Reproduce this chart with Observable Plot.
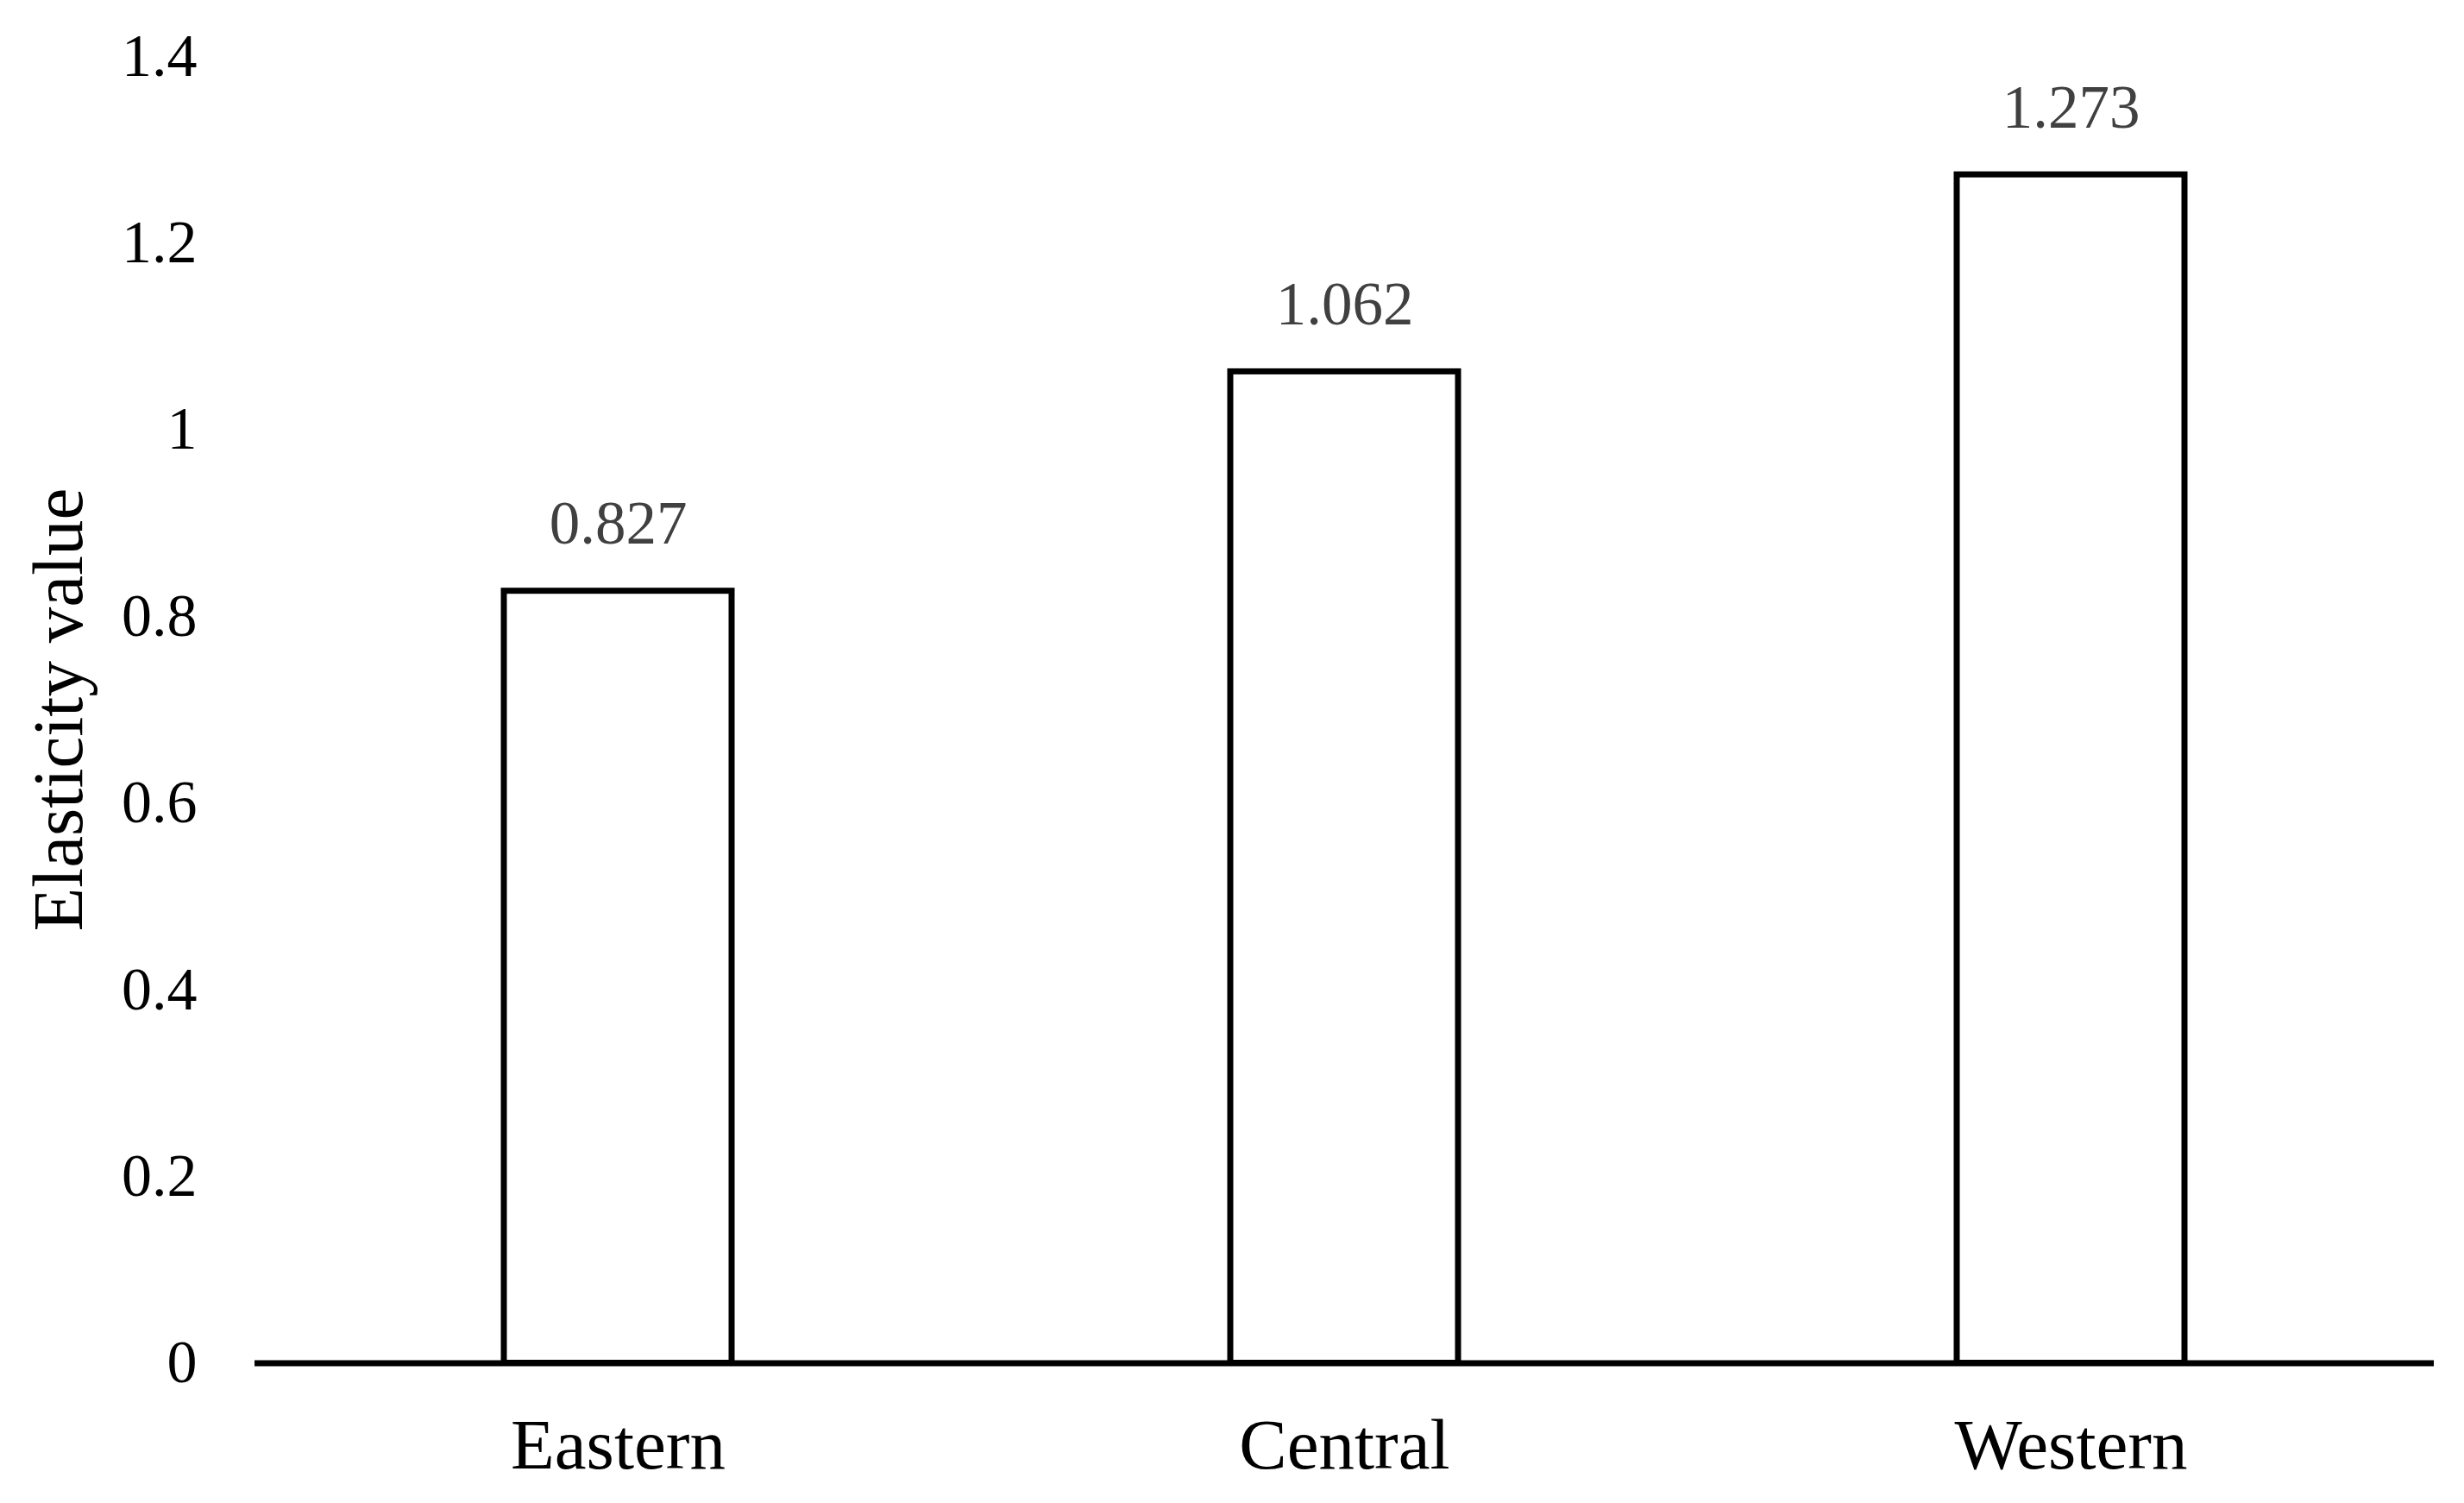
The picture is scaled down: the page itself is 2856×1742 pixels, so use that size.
<!DOCTYPE html>
<html>
<head>
<meta charset="utf-8">
<script src="https://cdn.jsdelivr.net/npm/d3@7"></script>
<script src="https://cdn.jsdelivr.net/npm/@observablehq/plot@0.6"></script>
<style>
  html, body { margin: 0; padding: 0; background: #ffffff; }
  #chart svg { display: block; }
</style>
</head>
<body>
<div id="chart"></div>
<script>
const regions = ["Eastern", "Central", "Western"];
const elasticity = [0.827, 1.062, 1.273];
const valueLabels = ["0.827", "1.062", "1.273"];
const yTicks = [0, 0.2, 0.4, 0.6, 0.8, 1.0, 1.2, 1.4];
const yTitle = "Elasticity value";

const data = regions.map((r, i) => ({region: r, value: elasticity[i], label: valueLabels[i]}));

const chart = Plot.plot({
  width: 2856,
  height: 1742,
  marginLeft: 295,
  marginRight: 35,
  marginTop: 64.7,
  marginBottom: 162.5,
  style: {fontFamily: "'Liberation Serif', 'Times New Roman', serif", background: "#ffffff", color: "#000000"},
  x: {domain: regions, paddingInner: 0.6865, paddingOuter: 0.343},
  y: {domain: [0, 1.4]},
  marks: [
    Plot.axisY({
      ticks: yTicks,
      tickSize: 0,
      tickPadding: 67,
      fontSize: 70,
      tickFormat: d => d3.format("~g")(d),
      label: null
    }),
    Plot.axisX({
      tickSize: 0,
      tickPadding: 63,
      fontSize: 83,
      label: null
    }),
    Plot.barY(data, {
      x: "region",
      y: "value",
      fill: "#ffffff",
      stroke: "#000000",
      strokeWidth: 7,
      inset: 0
    }),
    Plot.ruleY([0], {stroke: "#000000", strokeWidth: 7}),
    Plot.text(data, {
      x: "region",
      y: "value",
      text: "label",
      lineAnchor: "bottom",
      dy: -55,
      fontSize: 71,
      fill: "#404040"
    }),
    Plot.text([yTitle], {
      frameAnchor: "left",
      text: d => d,
      rotate: -90,
      textAnchor: "middle",
      lineAnchor: "bottom",
      dx: -201,
      dy: 0,
      fontSize: 83,
      fill: "#000000"
    })
  ]
});

document.getElementById("chart").appendChild(chart);
</script>
</body>
</html>
